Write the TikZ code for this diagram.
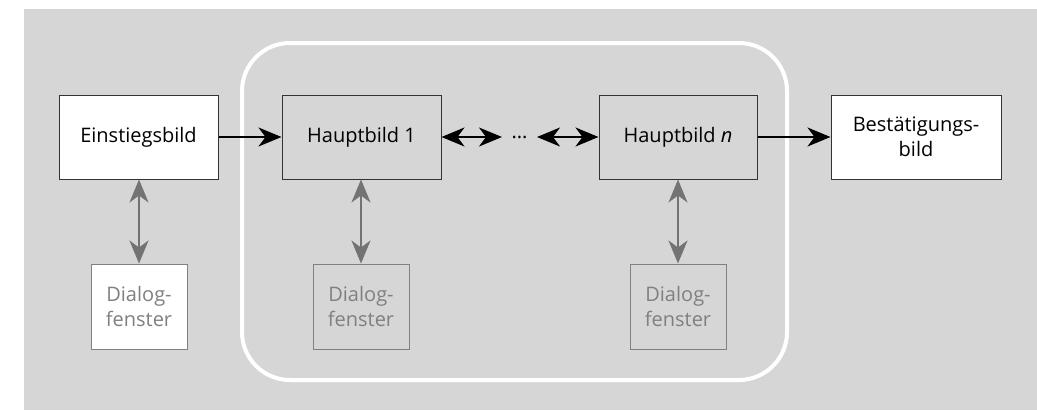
\documentclass[tikz,border=0pt]{standalone}
\usepackage{fontspec}
\setmainfont{Open Sans}
\usetikzlibrary{arrows.meta}
\definecolor{bg}{HTML}{D6D6D6}
\definecolor{dlg}{HTML}{808080}
\definecolor{garr}{HTML}{737373}
\begin{document}
\begin{tikzpicture}[x=1pt,y=-1pt,
  txt/.style={font=\fontsize{20}{25}\selectfont},
  mainbox/.style={txt, draw=black!80, line width=1pt, minimum height=84pt, align=center, inner sep=0pt},
  dlgbox/.style={txt, draw=dlg, line width=1pt, minimum width=96pt, minimum height=85pt, align=center, text=dlg, inner sep=0pt},
  tipb/.tip={Stealth[length=23pt,width=19pt,inset=7pt]},
  blackarr/.style={line width=2pt, -tipb},
  blackdbl/.style={line width=2pt, tipb-tipb},
  grayarr/.style={draw=garr, line width=2.5pt, tipb-tipb}
]
\useasboundingbox (0,0) rectangle (1037,410);
\fill[bg] (24,9) rectangle (1037,410);
\draw[white, line width=4pt, rounded corners=48pt] (242,43) rectangle (787,380);

\node[mainbox, fill=white, minimum width=159pt] (ein) at (138.5,137) {Einstiegsbild};
\node[mainbox, fill=bg, minimum width=159pt] (h1) at (361.5,137) {Hauptbild 1};
\node[mainbox, fill=bg, minimum width=158pt] (hn) at (678,137) {Hauptbild \textit{n}};
\node[mainbox, fill=white, minimum width=170pt] (best) at (916,137) {Bestätigungs-\\bild};
\node[txt, inner sep=0pt] (dots) at (519.5,137) {...};

\node[dlgbox, fill=white] (d1) at (139,306.5) {Dialog-\\fenster};
\node[dlgbox, fill=bg] (d2) at (361,306.5) {Dialog-\\fenster};
\node[dlgbox, fill=bg] (d3) at (678,306.5) {Dialog-\\fenster};

\coordinate (dl) at (502,137);
\coordinate (dr) at (537,137);

\draw[blackarr] (ein) -- (h1);
\draw[blackdbl] (h1) -- (dl);
\draw[blackdbl] (dr) -- (hn);
\draw[blackarr] (hn) -- (best);

\draw[grayarr] (ein.south -| d1) -- (d1);
\draw[grayarr] (h1.south -| d2) -- (d2);
\draw[grayarr] (hn.south -| d3) -- (d3);
\end{tikzpicture}
\end{document}
